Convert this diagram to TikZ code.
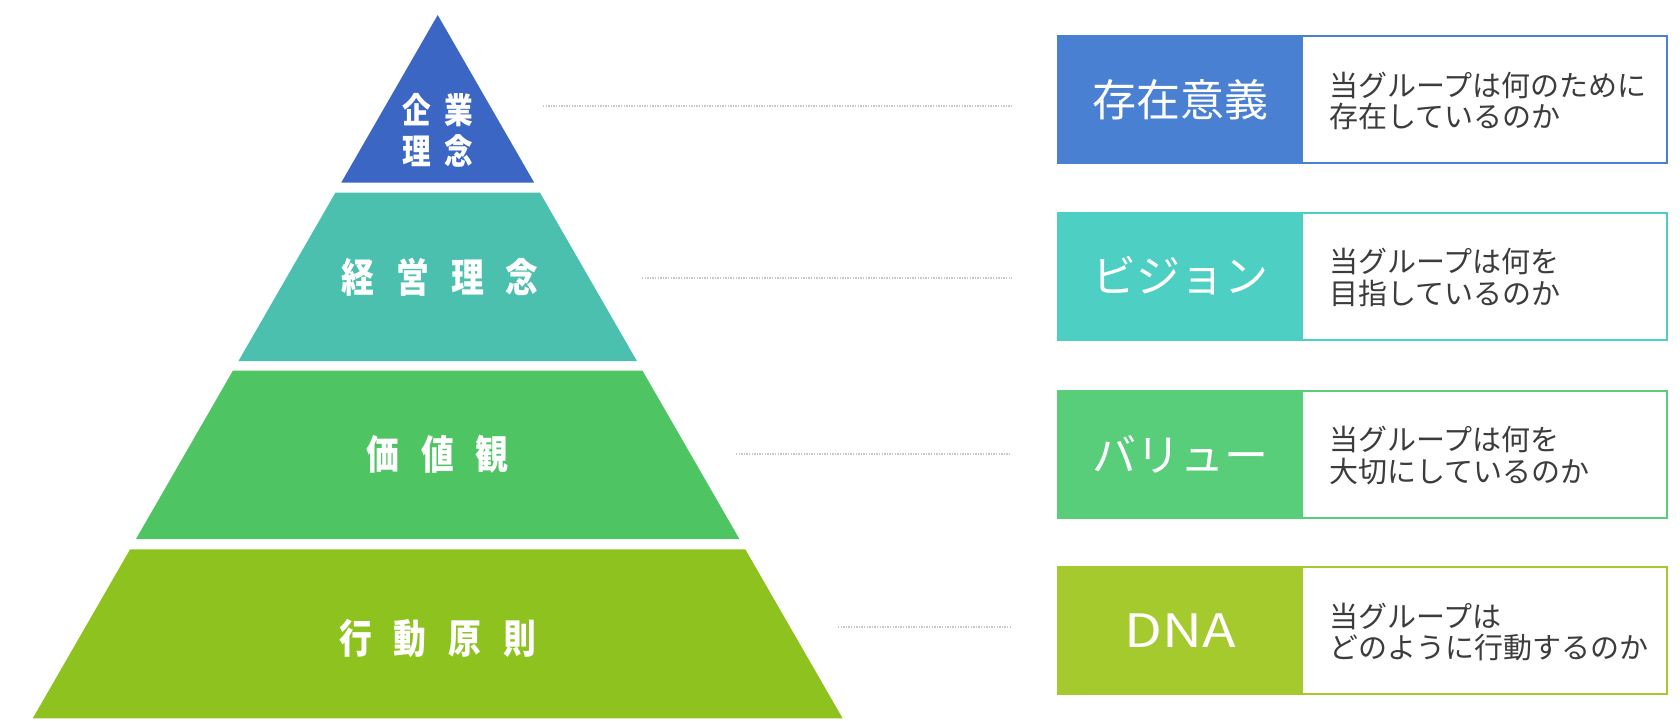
\documentclass[tikz,border=0pt]{standalone}
\usepackage{fontspec}
\usepackage{graphicx}
\setmainfont{Noto Sans CJK JP}
\definecolor{pA}{HTML}{3B66C3}
\definecolor{pB}{HTML}{4BC0AF}
\definecolor{pC}{HTML}{4EC463}
\definecolor{pD}{HTML}{8EC21F}
\definecolor{bA}{HTML}{4A80D2}
\definecolor{bB}{HTML}{4ECFC4}
\definecolor{bC}{HTML}{58CE7B}
\definecolor{bD}{HTML}{A5CA2E}
\definecolor{txtgray}{HTML}{3C3C3C}
\definecolor{dotgray}{HTML}{C8C8C8}
\newcommand{\cz}[1]{\scalebox{0.82}[1]{#1}}
\begin{document}
\begin{tikzpicture}[x=1pt,y=-1pt,
  tierlabel/.style={text=white,font=\fontsize{40pt}{44pt}\selectfont\bfseries,inner sep=0pt,align=center},
  keylabel/.style={text=white,font=\fontsize{44pt}{48pt}\selectfont,inner sep=0pt,minimum width=246pt,minimum height=127pt},
  desc/.style={text=txtgray,font=\fontsize{29pt}{31.5pt}\selectfont,inner sep=0pt,anchor=west,align=left},
  frame/.style={line width=2pt},
  dotline/.style={draw=dotgray,line width=2pt,dash pattern=on 1.3pt off 1.3pt}]
\useasboundingbox (0,0) rectangle (1680,720);
\fill[white] (0,0) rectangle (1680,720);
% pyramid tiers
\fill[pA] (437.7,15) -- (534.1,182.5) -- (341.3,182.5) -- cycle;
\fill[pB] (335.4,192.7) -- (540.0,192.7) -- (636.9,361) -- (238.5,361) -- cycle;
\fill[pC] (232.9,370.7) -- (642.5,370.7) -- (739.4,539) -- (136.0,539) -- cycle;
\fill[pD] (130.1,549.3) -- (745.3,549.3) -- (842.6,718.3) -- (32.8,718.3) -- cycle;
% tier labels
\node[tierlabel,font=\fontsize{35pt}{41pt}\selectfont\bfseries] (t1) at (438,130.5) {\cz{企}\hspace{13pt}\cz{業}\\\cz{理}\hspace{13pt}\cz{念}};
\node[tierlabel] (t2) at (440,277.5) {\cz{経}\hspace{22pt}\cz{営}\hspace{22pt}\cz{理}\hspace{22pt}\cz{念}};
\node[tierlabel] (t3) at (437.5,454) {\cz{価}\hspace{22pt}\cz{値}\hspace{22pt}\cz{観}};
\node[tierlabel] (t4) at (437.6,638) {\cz{行}\hspace{22pt}\cz{動}\hspace{22pt}\cz{原}\hspace{22pt}\cz{則}};
% boxes
\foreach \c/\y in {bA/99.5,bB/276,bC/454,bD/630.5}{
  \fill[\c] (1057.7,\y-63.5) rectangle (1303.2,\y+63.5);
  \draw[frame,draw=\c] (1057.7,\y-63.5) rectangle (1666.5,\y+63.5);
}
\node[keylabel] (k1) at (1180.5,99.5) {存在意義};
\node[keylabel] (k2) at (1180.5,276) {ビジョン};
\node[keylabel] (k3) at (1180.5,454) {バリュー};
\node[keylabel] (k4) at (1180.5,630.5) {\fontsize{46pt}{50pt}\selectfont\scalebox{1.2}[1]{DNA}};
\node[desc] (d1) at (1329,101) {当グループは何のために\\存在しているのか};
\node[desc] (d2) at (1329,277.5) {当グループは何を\\目指しているのか};
\node[desc] (d3) at (1329,455.5) {当グループは何を\\大切にしているのか};
\node[desc] (d4) at (1329,632) {当グループは\\どのように行動するのか};
% dotted connectors
\coordinate (s1) at (543,106);   \coordinate (e1) at (1012,106);
\coordinate (s2) at (642,277.5); \coordinate (e2) at (1012,277.5);
\coordinate (s3) at (736,454);   \coordinate (e3) at (1011,454);
\coordinate (s4) at (838,627);   \coordinate (e4) at (1011,627);
\draw[dotline] (s1) -- (e1);
\draw[dotline] (s2) -- (e2);
\draw[dotline] (s3) -- (e3);
\draw[dotline] (s4) -- (e4);
\end{tikzpicture}
\end{document}
